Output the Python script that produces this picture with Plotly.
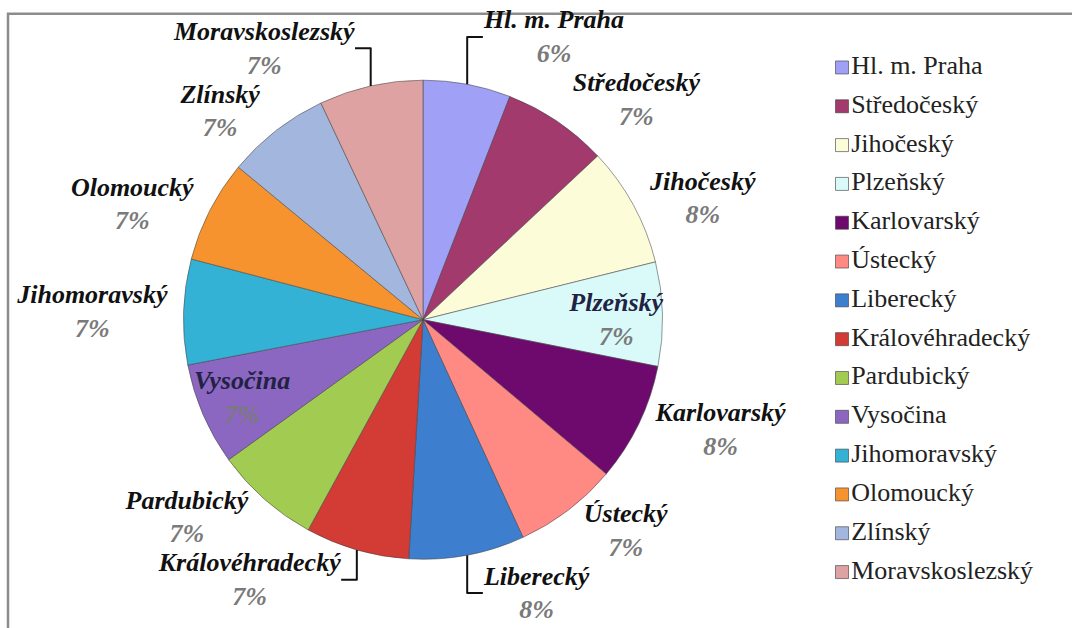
import plotly.graph_objects as go

regions = ["Hl. m. Praha", "Středočeský", "Jihočeský", "Plzeňský", "Karlovarský",
           "Ústecký", "Liberecký", "Královéhradecký", "Pardubický", "Vysočina",
           "Jihomoravský", "Olomoucký", "Zlínský", "Moravskoslezský"]
shares = [5.9, 7.1, 8.1, 7.0, 8.0, 7.0, 7.8, 7.0, 7.1, 6.9, 7.1, 6.9, 7.0, 7.0]
colors = ["#A0A0F6", "#A33A6E", "#FCFCD8", "#DAFAFA", "#6E0A6E", "#FF8A84", "#3D7FCE",
          "#D33B35", "#A2CB52", "#8C67C2", "#34B2D6", "#F7932E", "#A3B6DD", "#DDA2A1"]
label_pos = ["outside", "outside", "outside", "inside", "outside", "outside", "outside",
             "outside", "outside", "inside", "outside", "outside", "outside", "outside"]

W, H = 1072, 628
SERIF = "'Liberation Serif', 'Times New Roman', Times, serif"

fig = go.Figure()

fig.add_trace(go.Pie(
    labels=regions, values=shares, sort=False, direction="clockwise", rotation=0,
    marker=dict(colors=colors, line=dict(color="rgba(70,70,70,0.55)", width=1)),
    textposition=label_pos, insidetextorientation="horizontal",
    texttemplate="<b><i>%{label}</i></b><br><b><i><span style='color:#7a7a7a'>%{percent:.0%}</span></i></b>",
    textfont=dict(family=SERIF, size=26, color="#111111"),
    outsidetextfont=dict(family=SERIF, size=26, color="#111111"),
    insidetextfont=dict(family=SERIF, size=26, color="#222244"),
    domain=dict(x=[178 / W, 668 / W], y=[1 - 572 / H, 1 - 82 / H]),
    showlegend=False, hoverinfo="label+percent",
))

# legend drawn as a scatter on its own axes
fig.add_trace(go.Scatter(
    x=[0] * len(regions), y=list(range(len(regions))), mode="markers+text",
    marker=dict(symbol="square", size=13, color=colors,
                line=dict(color="rgba(60,60,60,0.6)", width=1)),
    text=regions, textposition="middle right",
    textfont=dict(family=SERIF, size=26, color="#222222"),
    cliponaxis=False, showlegend=False, hoverinfo="skip",
    xaxis="x2", yaxis="y2",
))

ROW = 39.7
FIRST = 69
fig.update_layout(
    width=W, height=H, margin=dict(l=0, r=0, t=0, b=0),
    paper_bgcolor="white", plot_bgcolor="rgba(0,0,0,0)",
    font=dict(family=SERIF),
    uniformtext=dict(minsize=26, mode="show"),
    xaxis2=dict(domain=[842 / W, 1.0], range=[0, 1], visible=False, fixedrange=True),
    yaxis2=dict(domain=[0, 1], range=[(H - FIRST) / ROW, -FIRST / ROW], visible=False,
                fixedrange=True, anchor="x2"),
    shapes=[dict(type="rect", xref="paper", yref="paper",
                 x0=8 / W, x1=1.03, y0=-0.03, y1=1 - 14 / H,
                 line=dict(color="#8c8c8c", width=2.5), fillcolor="rgba(0,0,0,0)",
                 layer="below")],
)

fig.write_html(
    "out.html",
    config={"displayModeBar": False},
    post_script="document.body.style.margin='0px';document.body.style.overflow='hidden';",
)
